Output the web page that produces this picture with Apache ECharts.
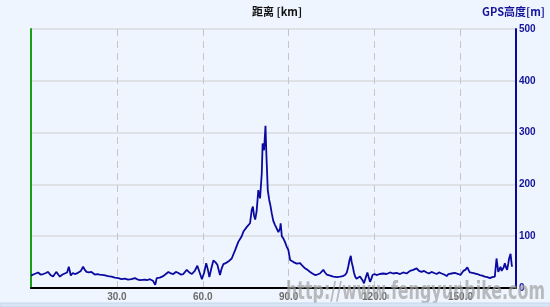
<!DOCTYPE html>
<html>
<head>
<meta charset="utf-8">
<script src="https://cdn.jsdelivr.net/npm/echarts@6/dist/echarts.min.js"></script>
<style>
html,body{margin:0;padding:0;background:#EFF5FE;}
#c{width:550px;height:307px;}
</style>
</head>
<body>
<div id="c"></div>
<script>
// Distance (km) and GPS altitude (m)
const distanceKm = [
0.0,0.2,1.2,2.5,3.3,4.3,5.2,6.0,6.8,7.7,8.3,8.9,9.5,10.1,11.0,11.8,12.6,13.2,13.9,14.6,
15.3,16.0,16.5,17.4,18.2,18.8,19.4,20.2,21.1,21.7,22.3,23.2,24.0,25.5,26.9,28.1,29.3,30.5,31.6,32.8,
33.9,35.1,36.3,37.4,38.1,38.6,39.8,40.5,41.5,42.6,43.4,43.9,45.0,46.2,47.1,48.0,48.9,49.7,50.6,51.5,
52.3,53.2,54.4,55.3,56.2,57.2,58.1,58.9,59.7,60.5,61.2,61.8,62.3,63.0,63.7,64.4,65.1,66.0,66.6,67.2,
68.0,68.9,69.5,70.1,71.3,72.4,73.0,73.6,74.2,74.8,75.4,76.0,76.5,77.1,77.5,77.9,78.3,78.8,79.4,80.0,
80.6,80.9,81.4,81.9,82.2,82.7,83.2,83.6,84.1,84.6,85.2,85.8,86.4,87.0,87.2,87.6,88.2,88.7,89.3,89.9,
90.5,91.1,91.7,92.2,92.8,93.4,94.0,94.6,95.2,95.7,96.6,97.5,98.3,99.2,100.0,100.9,101.5,102.1,102.7,103.3,
104.5,105.6,106.8,108.0,108.9,109.7,110.3,110.8,111.3,111.7,112.0,112.4,112.8,113.2,113.7,114.3,114.9,115.5,115.9,116.3,
116.9,117.5,118.0,118.4,118.9,119.3,120.0,120.7,121.8,123.0,124.2,125.4,126.5,127.7,128.9,130.0,131.2,132.4,133.5,134.7,
135.5,136.4,137.3,138.2,139.0,139.9,140.8,141.7,142.5,143.4,144.3,145.2,145.8,146.3,146.9,147.5,148.0,148.6,149.3,150.0,
150.5,151.0,151.7,152.4,152.9,153.3,154.2,155.0,155.9,156.8,157.6,158.5,159.4,160.3,161.1,162.0,162.6,163.2,163.6,164.0,
164.4,164.7,165.1,165.5,165.9,166.3,166.7,167.0,167.5,167.8,168.0
];
const altitudeM = [
24,25,27,30,26,27,29,31,25,22,27,31,26,22,26,28,30,41,24,29,
27,28,31,33,41,35,31,30,31,28,26,27,26,25,23,22,20,19,17,18,
16,17,19,16,15,15,16,15,17,14,6,19,20,23,27,31,28,27,31,29,
26,27,35,30,27,33,43,30,17,30,48,35,21,38,53,50,45,25,38,46,
48,51,54,57,73,89,89,100,109,112,118,115,125,151,157,140,132,148,189,173,
221,279,266,313,260,189,170,160,144,130,122,115,108,115,125,100,95,89,80,73,
54,51,50,48,47,45,48,44,41,38,35,31,28,25,26,28,31,35,30,26,
24,22,21,22,23,25,30,41,55,62,50,41,30,22,18,15,22,25,14,9,
20,30,20,12,18,25,27,25,27,28,27,30,28,29,27,30,28,33,35,38,
33,31,33,30,28,31,29,27,30,28,26,23,27,30,28,27,29,31,27,25,
29,33,35,40,34,30,29,28,27,25,24,22,21,19,21,22,57,31,36,41,
33,31,40,48,40,35,47,57,66,50,41
];
const xTickLabels = ['30.0','60.0','90.0','120.0','150.0'];
const yTickLabels = ['0','100','200','300','400','500'];
const xTitle = '距离 [km]';
const yTitle = 'GPS高度[m]';
const watermark = 'http://www.fengyunbike.com';

const seriesData = distanceKm.map((d, i) => [d, altitudeM[i]]);

const chart = echarts.init(document.getElementById('c'), null, {renderer: 'canvas'});

// fit watermark width
const cv = document.createElement('canvas').getContext('2d');
const wmFont = 'bold 24px "Liberation Sans Narrow", "DejaVu Sans Condensed", "Liberation Sans", sans-serif';
cv.font = wmFont;
const wmW = cv.measureText(watermark).width;
const wmScale = 259 / wmW;

chart.setOption({
  backgroundColor: '#EFF5FE',
  animation: false,
  grid: {left: 31, right: 34, top: 29, bottom: 19, containLabel: false},
  xAxis: {
    type: 'value', min: 0, max: 169.4, interval: 30,
    axisLine: {show: true, onZero: false, lineStyle: {color: '#000000', width: 2}},
    axisTick: {show: false},
    axisLabel: {
      color: '#6b6b6b', fontSize: 10, fontWeight: 'bold',
      fontFamily: '"Liberation Sans", Arial, sans-serif', margin: 4,
      formatter: v => {
        const s = v.toFixed(1);
        return xTickLabels.indexOf(s) >= 0 ? s : '';
      }
    },
    splitLine: {show: true, lineStyle: {color: '#C6C6C6', type: [7, 5], width: 1}}
  },
  yAxis: [
    {
      type: 'value', min: 0, max: 500, interval: 100, position: 'left',
      axisLine: {show: true, lineStyle: {color: '#16A016', width: 2}},
      axisTick: {show: false},
      axisLabel: {show: false},
      splitLine: {show: true, lineStyle: {color: '#DEE1E6', width: 2}}
    },
    {
      type: 'value', min: 0, max: 500, interval: 100, position: 'right',
      axisLine: {show: true, lineStyle: {color: '#0A0A96', width: 2}},
      axisTick: {show: false},
      axisLabel: {
        color: '#13139A', fontSize: 10, fontWeight: 'bold',
        fontFamily: '"Liberation Sans", Arial, sans-serif', margin: 3,
        formatter: v => yTickLabels.indexOf(String(v)) >= 0 ? String(v) : ''
      },
      splitLine: {show: false}
    }
  ],
  series: [{
    type: 'line', yAxisIndex: 1, data: seriesData,
    showSymbol: false, symbol: 'none',
    lineStyle: {color: '#0A0AA0', width: 1.8},
    z: 3
  }],
  graphic: [
    {type: 'text', left: 252, top: 6, z: 10,
     style: {text: xTitle, fill: '#111', font: 'bold 11px "Noto Sans CJK SC", "Liberation Sans", sans-serif'}},
    {type: 'text', right: 5, top: 6, z: 10,
     style: {text: yTitle, fill: '#15159C', font: 'bold 11px "Noto Sans CJK SC", "Liberation Sans", sans-serif'}},
    {type: 'text', x: 286, y: 281, z: 20, scaleX: wmScale,
     style: {text: watermark, fill: 'rgba(160,160,160,0.7)', font: wmFont}},
    {type: 'rect', shape: {x: 0, y: 303, width: 550, height: 4}, z: 30,
     style: {fill: '#D9E5F5', stroke: '#C5D5EC', lineWidth: 1}}
  ]
});
</script>
</body>
</html>
